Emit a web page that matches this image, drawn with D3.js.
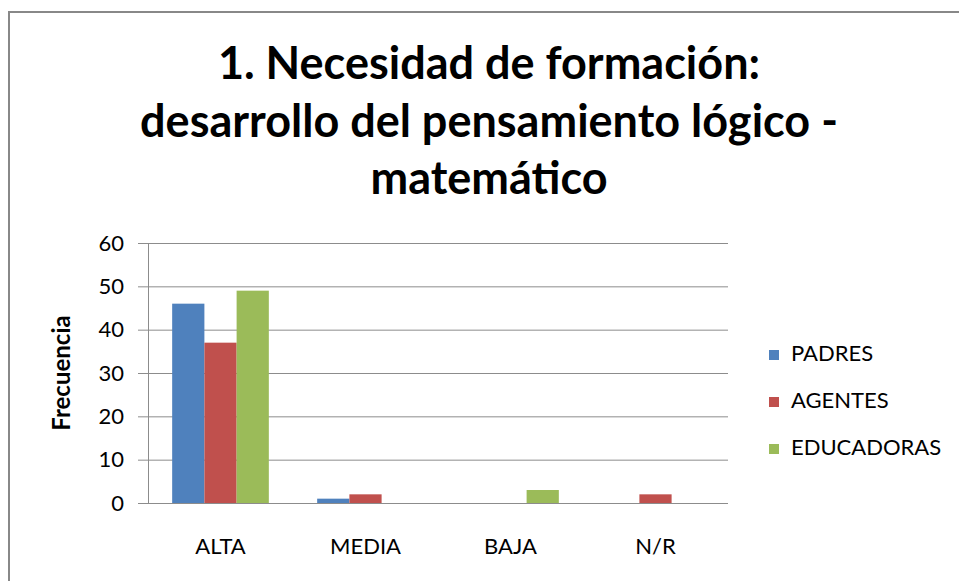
<!DOCTYPE html>
<html>
<head>
<meta charset="utf-8">
<script src="https://cdn.jsdelivr.net/npm/d3@7"></script>
<style>
  html, body { margin: 0; padding: 0; background: #fff; }
  svg { display: block; font-family: Lato, "Open Sans", sans-serif; }
</style>
</head>
<body>
<div id="chart"></div>
<script>
// chart data
const categories = ['ALTA', 'MEDIA', 'BAJA', 'N/R'];
const seriesNames = ['PADRES', 'AGENTES', 'EDUCADORAS'];
const padres = [46, 1, 0, 0];
const agentes = [37, 2, 0, 2];
const educadoras = [49, 0, 3, 0];
const yTicks = [0, 10, 20, 30, 40, 50, 60];
const titleLines = ['1. Necesidad de formación:', 'desarrollo del pensamiento lógico -', 'matemático'];
const yLabel = 'Frecuencia';

const seriesValues = [padres, agentes, educadoras];
const colors = ['#4F81BD', '#C0504D', '#9BBB59'];

const width = 959, height = 581;
const margin = {top: 243, right: 231, bottom: 78, left: 148};
const plotW = width - margin.left - margin.right;
const plotH = height - margin.top - margin.bottom;

const svg = d3.select('#chart').append('svg')
    .attr('width', width)
    .attr('height', height);

// outer frame (only top and left edges are inside the picture)
svg.append('path')
    .attr('d', 'M9,' + height + 'V12H' + width)
    .attr('fill', 'none')
    .attr('stroke', '#888')
    .attr('stroke-width', 2);

// title
svg.append('text')
    .attr('text-anchor', 'middle')
    .attr('font-weight', 'bold')
    .attr('font-size', 45)
    .attr('fill', '#000')
    .selectAll('tspan')
    .data(titleLines)
    .enter().append('tspan')
    .attr('x', 489)
    .attr('y', (d, i) => 79 + i * 57.5)
    .text(d => d);

const g = svg.append('g')
    .attr('transform', 'translate(' + margin.left + ',' + margin.top + ')');

const x0 = d3.scaleBand().domain(categories).range([0, plotW]).paddingInner(0).paddingOuter(0);
// excel-like gap width 150%: 3 bars + 1.5 bar of gap in each category
const barW = x0.bandwidth() / 4.5;
const x1 = d3.scaleBand().domain(seriesNames)
    .range([barW * 0.75, barW * 3.75]);
const y = d3.scaleLinear().domain([0, 60]).range([plotH, 0]);

// gridlines
g.append('g')
    .selectAll('line')
    .data(yTicks)
    .enter().append('line')
    .attr('x1', 0)
    .attr('x2', plotW)
    .attr('y1', d => y(d) + 0.5)
    .attr('y2', d => y(d) + 0.5)
    .attr('stroke', '#8c8c8c')
    .attr('stroke-width', 1);

// y axis
const yAxis = g.append('g')
    .call(d3.axisLeft(y).tickValues(yTicks).tickSize(10).tickPadding(14));
yAxis.select('.domain').attr('stroke', '#8c8c8c');
yAxis.selectAll('.tick line').attr('stroke', '#8c8c8c');
yAxis.selectAll('.tick text')
    .attr('font-family', 'Lato, sans-serif')
    .attr('font-size', 22)
    .attr('fill', '#000');

// bars
seriesValues.forEach((vals, si) => {
  g.append('g')
      .selectAll('rect')
      .data(vals)
      .enter().append('rect')
      .attr('x', (d, i) => x0(categories[i]) + x1(seriesNames[si]))
      .attr('width', x1.bandwidth())
      .attr('y', d => y(d))
      .attr('height', d => plotH - y(d))
      .attr('fill', colors[si]);
});

// baseline on top of bars
g.append('line')
    .attr('x1', 0).attr('x2', plotW)
    .attr('y1', y(0) + 0.5).attr('y2', y(0) + 0.5)
    .attr('stroke', '#8c8c8c');

// category labels
const xAxis = g.append('g')
    .attr('transform', 'translate(0,' + plotH + ')')
    .call(d3.axisBottom(x0).tickSize(0).tickPadding(35));
xAxis.select('.domain').remove();
xAxis.selectAll('.tick text')
    .attr('font-family', 'Lato, sans-serif')
    .attr('font-size', 22)
    .attr('fill', '#000');

// y axis title
svg.append('text')
    .attr('transform', 'translate(70,373) rotate(-90)')
    .attr('text-anchor', 'middle')
    .attr('font-weight', 'bold')
    .attr('font-size', 24)
    .attr('fill', '#000')
    .text(yLabel);

// legend
const legend = svg.append('g')
    .selectAll('g')
    .data(seriesNames)
    .enter().append('g')
    .attr('transform', (d, i) => 'translate(769,' + (350 + i * 47) + ')');
legend.append('rect')
    .attr('width', 10)
    .attr('height', 10)
    .attr('fill', (d, i) => colors[i]);
legend.append('text')
    .attr('x', 22)
    .attr('y', 11)
    .attr('font-size', 22)
    .attr('fill', '#000')
    .text(d => d);
</script>
</body>
</html>
